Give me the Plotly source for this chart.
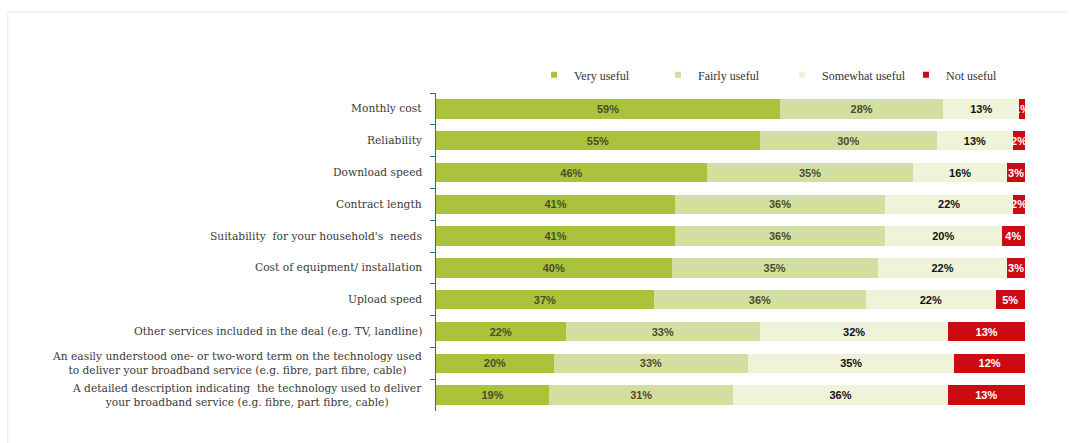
import plotly.graph_objects as go

categories = [
    "Monthly cost",
    "Reliability",
    "Download speed",
    "Contract length",
    "Suitability  for your household's  needs",
    "Cost of equipment/ installation",
    "Upload speed",
    "Other services included in the deal (e.g. TV, landline)",
    "An easily understood one- or two-word term on the technology used<br>to deliver your broadband service (e.g. fibre, part fibre, cable)",
    "A detailed description indicating  the technology used to deliver<br>your broadband service (e.g. fibre, part fibre, cable)",
]
very_useful = [59, 55, 46, 41, 41, 40, 37, 22, 20, 19]
fairly_useful = [28, 30, 35, 36, 36, 35, 36, 33, 33, 31]
somewhat_useful = [13, 13, 16, 22, 20, 22, 22, 32, 35, 36]
not_useful = [1, 2, 3, 2, 4, 3, 5, 13, 12, 13]

series = [
    ("Very useful", very_useful, "#abc33c", "#4a4d2a"),
    ("Fairly useful", fairly_useful, "#d3dfa0", "#4a4d2a"),
    ("Somewhat useful", somewhat_useful, "#eff3da", "#111111"),
    ("Not useful", not_useful, "#cc0a12", "#ffffff"),
]

fig = go.Figure()
for name, vals, color, tcolor in series:
    fig.add_trace(go.Bar(
        y=categories, x=vals, orientation="h", name=name,
        marker=dict(color=color, line=dict(width=0)),
        text=[f"{v}%" for v in vals],
        textposition="inside", insidetextanchor="middle",
        constraintext="none", textangle=0,
        textfont=dict(family="Liberation Sans", size=11, color=tcolor, weight="bold"),
        showlegend=False, hoverinfo="skip",
    ))
    fig.add_trace(go.Scatter(
        x=[None], y=[None], mode="markers", name=name,
        marker=dict(symbol="square", size=6, color=color),
        showlegend=True,
    ))

annotations = [
    dict(text=c, xref="paper", yref="y", x=0, y=c, xanchor="right", yanchor="middle",
         xshift=-12, align="center", showarrow=False,
         font=dict(family="DejaVu Serif", size=10.7, color="#3a3a3a"))
    for c in categories
]

fig.update_layout(
    width=1077, height=443,
    barmode="stack", barnorm="percent", bargap=0.39,
    paper_bgcolor="white", plot_bgcolor="white",
    margin=dict(l=436, r=52, t=93, b=32),
    font=dict(family="Liberation Serif", size=11, color="#333333"),
    legend=dict(
        orientation="h", x=0.1664, xanchor="left", y=1.057, yanchor="middle",
        font=dict(family="Liberation Serif", size=12, color="#333333"),
        itemwidth=30, traceorder="normal", bgcolor="rgba(0,0,0,0)",
        entrywidthmode="pixels", entrywidth=79,
    ),
    xaxis=dict(visible=False, range=[0, 100], fixedrange=True),
    yaxis=dict(
        autorange="reversed", showline=True, linecolor="#2e7080", linewidth=1,
        ticks="outside", ticklen=5, tickcolor="#2e7080", tickson="boundaries",
        showticklabels=False, showgrid=False,
    ),
    annotations=annotations,
    shapes=[
        dict(type="line", xref="paper", yref="paper", x0=-0.727, x1=1.07, y0=1.2547, y1=1.2547,
             line=dict(color="#e6e6e6", width=1)),
        dict(type="line", xref="paper", yref="paper", x0=-0.727, x1=-0.727, y0=-0.11, y1=1.2547,
             line=dict(color="#ececec", width=1)),
    ],
)

fig.write_html("out.html")
